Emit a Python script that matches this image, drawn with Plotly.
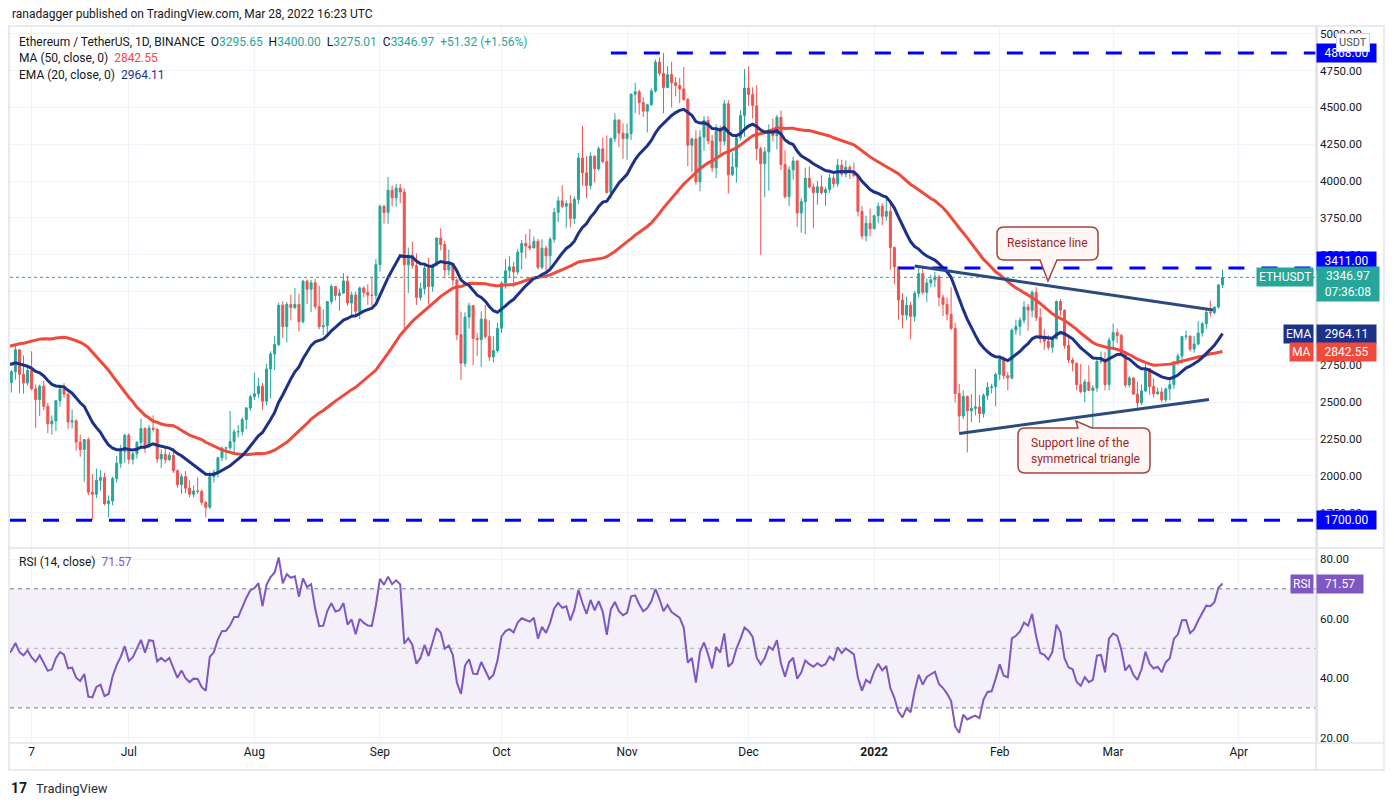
import numpy as np
import pandas as pd
import plotly.graph_objects as go

# ETH/USDT daily closes before the visible window (2021-04-12 .. 2021-05-31),
# only used so MA50 / EMA20 / RSI14 are warmed up at the left edge
warmup_close = [2138, 2299, 2432, 2514, 2422, 2315, 2236, 2162, 2331, 2357, 2403, 2363, 2211, 2317, 2535, 2663, 2748, 2757, 2774,
                2946, 2949, 3431, 3241, 3523, 3490, 3484, 3903, 3928, 3951, 4168, 3785, 3716, 4080, 3645, 3587, 3276, 3382,
                2456, 2773, 2429, 2299, 2103, 2644, 2706, 2889, 2742, 2416, 2279, 2388, 2709]

start_date = "2021-06-01"

# visible candles 2021-06-01 .. 2022-03-28 (one row per month)
close = [
    2634, 2707, 2856, 2689, 2630, 2715, 2591, 2518, 2609, 2472, 2353, 2372, 2510, 2588, 2554, 2366, 2374, 2229, 2179, 2246, 1890, 1875, 1970, 1990, 1812, 1830, 1982, 2086, 2166, 2275,
    2113, 2150, 2227, 2322, 2198, 2324, 2317, 2115, 2146, 2111, 2140, 2035, 1941, 1995, 1917, 1876, 1898, 1895, 1820, 1787, 1995, 2026, 2123, 2188, 2191, 2233, 2299, 2300, 2382, 2461, 2537,
    2557, 2608, 2507, 2725, 2827, 2891, 3157, 3013, 3163, 3142, 3164, 3046, 3321, 3266, 3310, 3148, 3012, 3018, 3183, 3284, 3224, 3240, 3322, 3173, 3227, 3117, 3275, 3245, 3226, 3224, 3433,
    3829, 3787, 3937, 3886, 3952, 3926, 3432, 3497, 3427, 3211, 3270, 3410, 3285, 3429, 3614, 3570, 3397, 3433, 3329, 2958, 2764, 3077, 3155, 2932, 2925, 3063, 2945, 2807, 2850, 3001,
    3308, 3391, 3418, 3383, 3517, 3576, 3560, 3546, 3591, 3415, 3545, 3493, 3605, 3787, 3866, 3829, 3847, 3746, 3876, 4156, 4056, 3970, 4168, 4084, 4219, 4132, 3923, 4288, 4414, 4325, 4288,
    4322, 4589, 4606, 4532, 4474, 4518, 4611, 4807, 4731, 4635, 4722, 4667, 4648, 4625, 4553, 4243, 4286, 3995, 4298, 4412, 4272, 4090, 4340, 4270, 4524, 4042, 4096, 4293, 4444, 4631,
    4587, 4511, 4220, 4117, 4198, 4347, 4309, 4432, 4112, 3894, 4076, 4136, 3784, 3860, 4019, 3960, 3922, 3961, 3922, 3942, 4020, 3981, 4108, 4047, 4093, 4067, 4037, 3794, 3628, 3713, 3676,
    3765, 3829, 3761, 3794, 3550, 3418, 3193, 3091, 3157, 3083, 3238, 3372, 3245, 3309, 3330, 3350, 3212, 3164, 3096, 3001, 2559, 2406, 2539, 2441, 2457, 2468, 2423, 2546, 2600, 2604, 2688,
    2793, 2680, 2664, 2989, 3014, 3056, 3146, 3124, 3245, 3075, 2930, 2914, 2872, 2930, 3183, 3124, 2884, 2786, 2765, 2619, 2572, 2637, 2580, 2596, 2776, 2781, 2620, 2920,
    2972, 2952, 2835, 2617, 2664, 2555, 2496, 2576, 2728, 2606, 2557, 2570, 2516, 2590, 2619, 2774, 2814, 2946, 2949, 2861, 2895, 2970, 3032, 3110, 3107, 3145, 3295.65, 3346.97,
]

high = [
    2740, 2718, 2891, 2858, 2817, 2744, 2845, 2620, 2620, 2645, 2495, 2410, 2515, 2620, 2630, 2565, 2450, 2384, 2280, 2250, 2262, 2015, 2050, 2040, 2020, 1868, 1995, 2135, 2210, 2285,
    2290, 2163, 2237, 2390, 2330, 2346, 2410, 2323, 2180, 2190, 2160, 2190, 2045, 2015, 2033, 1970, 1935, 1990, 1910, 1830, 2030, 2043, 2130, 2200, 2196, 2440, 2317, 2345, 2398, 2468, 2550,
    2700, 2666, 2630, 2760, 2845, 2950, 3175, 3185, 3180, 3230, 3275, 3235, 3330, 3333, 3330, 3335, 3290, 3130, 3185, 3300, 3290, 3270, 3375, 3357, 3249, 3250, 3285, 3286, 3300, 3350, 3470,
    3840, 3839, 4028, 3970, 3980, 3980, 3950, 3548, 3590, 3510, 3310, 3440, 3480, 3440, 3615, 3680, 3595, 3535, 3445, 3340, 3114, 3110, 3175, 3160, 2970, 3115, 3160, 3055, 2950, 3040,
    3320, 3470, 3490, 3450, 3540, 3600, 3640, 3675, 3625, 3607, 3605, 3560, 3620, 3817, 3895, 3972, 3870, 3905, 3895, 4190, 4375, 4170, 4195, 4175, 4235, 4295, 4310, 4295, 4460, 4420, 4390,
    4390, 4595, 4666, 4620, 4570, 4525, 4630, 4825, 4840, 4868, 4780, 4810, 4705, 4700, 4775, 4565, 4295, 4345, 4345, 4440, 4440, 4313, 4385, 4375, 4550, 4550, 4195, 4296, 4480, 4760,
    4778, 4635, 4650, 4235, 4230, 4385, 4425, 4450, 4478, 4210, 4100, 4165, 4145, 3885, 4090, 4100, 3985, 4000, 4040, 3960, 4050, 4045, 4150, 4145, 4140, 4110, 4125, 4050, 3830, 3765, 3813,
    3770, 3855, 3850, 3880, 3845, 3555, 3420, 3240, 3215, 3180, 3255, 3415, 3413, 3340, 3365, 3385, 3365, 3230, 3210, 3280, 3040, 2625, 2580, 2545, 2555, 2725, 2550, 2560, 2635, 2625, 2700,
    2815, 2810, 2705, 3000, 3060, 3075, 3185, 3167, 3260, 3280, 3140, 2995, 2955, 2950, 3190, 3200, 3130, 2944, 2803, 2767, 2760, 2655, 2750, 2615, 2800, 2845, 2840, 2940,
    3033, 3000, 2963, 2840, 2680, 2670, 2640, 2620, 2765, 2730, 2660, 2600, 2600, 2600, 2655, 2780, 2830, 2950, 2985, 2950, 2950, 3050, 3045, 3125, 3190, 3150, 3300, 3400.00,
]

low = [
    2530, 2565, 2652, 2560, 2558, 2614, 2580, 2326, 2406, 2445, 2290, 2280, 2305, 2470, 2530, 2320, 2321, 2172, 2130, 1960, 1870, 1700, 1850, 1900, 1800, 1720, 1800, 1955, 2055, 2090,
    2080, 2078, 2118, 2188, 2155, 2190, 2300, 2087, 2055, 2085, 2100, 2020, 1920, 1880, 1883, 1855, 1854, 1877, 1800, 1718, 1776, 1955, 1990, 2100, 2107, 2175, 2150, 2260, 2273, 2317, 2441,
    2515, 2530, 2450, 2478, 2525, 2716, 2880, 2935, 2905, 3055, 3130, 2980, 3033, 3165, 3110, 3130, 2996, 2955, 2950, 3162, 3190, 3120, 3235, 3152, 3080, 3086, 3064, 3210, 3160, 3155, 3195,
    3386, 3713, 3710, 3830, 3825, 3850, 3000, 3240, 3405, 3160, 3190, 3232, 3162, 3250, 3425, 3530, 3340, 3360, 3290, 2920, 2651, 2740, 3000, 2750, 2815, 2740, 2930, 2780, 2770, 2835,
    2970, 3270, 3345, 3280, 3365, 3400, 3475, 3530, 3545, 3400, 3400, 3383, 3410, 3580, 3720, 3815, 3680, 3685, 3710, 3845, 3970, 3885, 3945, 3990, 4070, 4120, 3915, 3880, 4265, 4230, 4150,
    4145, 4280, 4460, 4450, 4435, 4330, 4510, 4600, 4715, 4460, 4630, 4500, 4575, 4530, 4545, 4100, 4060, 3975, 3930, 4205, 4250, 4062, 4020, 4160, 4240, 3915, 4035, 3990, 4275, 4300,
    4510, 4425, 4140, 3500, 3890, 3935, 4270, 4215, 4075, 3880, 3830, 4010, 3690, 3650, 3640, 3950, 3680, 3840, 3910, 3830, 3920, 3955, 3960, 4030, 4025, 4015, 4025, 3760, 3605, 3590, 3625,
    3675, 3715, 3700, 3730, 3400, 3300, 3060, 3000, 3055, 2928, 3045, 3210, 3230, 3180, 3280, 3280, 3150, 3085, 3055, 2990, 2500, 2300, 2385, 2159, 2365, 2410, 2360, 2395, 2515, 2560, 2472,
    2650, 2655, 2580, 2655, 2955, 2952, 3035, 2985, 3075, 3050, 2900, 2855, 2855, 2835, 2925, 3085, 2862, 2765, 2710, 2580, 2560, 2500, 2575, 2300, 2570, 2760, 2580, 2580,
    2860, 2900, 2820, 2600, 2600, 2550, 2450, 2480, 2570, 2550, 2532, 2550, 2500, 2500, 2512, 2590, 2750, 2760, 2923, 2845, 2835, 2885, 2945, 2997, 3082, 3095, 3135, 3275.01,
]

assert len(close) == len(high) == len(low) == 301

# indicator readings as printed on the reference
ma_last = 2842.55
ema_last = 2964.11
rsi_last = 71.57

# horizontal levels drawn by the author
level_top = 4868.00
level_resist = 3411.00
level_bottom = 1700.00

# trendline drawings (date, price)
resistance_line = [("2022-01-11", 3424), ("2022-03-25 16:00", 3126)]
support_line = [("2022-01-22", 2288), ("2022-03-24 16:00", 2518)]

month_ticks = ["2021-06-07", "2021-07-01", "2021-08-01", "2021-09-01", "2021-10-01", "2021-11-01",
               "2021-12-01", "2022-01-01", "2022-02-01", "2022-03-01", "2022-04-01"]
month_labels = ["7", "Jul", "Aug", "Sep", "Oct", "Nov", "Dec", "<b>2022</b>", "Feb", "Mar", "Apr"]
price_ticks = [1750, 2000, 2250, 2500, 2750, 3000, 3250, 3500, 3750, 4000, 4250, 4500, 4750, 5000]
rsi_ticks = [20, 40, 60, 80]

UP = "#26a69a"
DOWN = "#ef5350"
EMA_C = "#1b3288"
MA_C = "#f04a3d"
RSI_C = "#7e57c2"
LVL_C = "#0000ff"
TXT = "#131722"
GRID = "#f0f3fa"
BORDER = "#e0e3eb"
FONT = "Roboto"

# ---- derived series -------------------------------------------------------
dates = pd.date_range(start_date, periods=len(close), freq="D")
opens = [warmup_close[-1]] + close[:-1]   # 24h market: open = prior close

full = pd.Series(warmup_close + close, dtype=float)
ma50 = full.rolling(50).mean().iloc[len(warmup_close):].values
ema20 = full.ewm(span=20, adjust=False).mean().iloc[len(warmup_close):].values
delta = full.diff()
up_avg = delta.clip(lower=0).ewm(alpha=1 / 14, adjust=False).mean()
dn_avg = (-delta.clip(upper=0)).ewm(alpha=1 / 14, adjust=False).mean()
rsi = (100 - 100 / (1 + up_avg / dn_avg)).iloc[len(warmup_close):].values

# ---- pixel helpers -----------------------------------------------------------
# the page body has an 8px margin, so the figure is 8px smaller and the
# reference pixel positions below are screen positions
OFF = 8
W, H = 1394 - OFF, 806 - OFF
L, R, T, B = 10, 1316, 27, 743
SPLIT = 548


def px(x):
    return (x - L) / (R - L)


def py(y):
    return (B - y) / (B - T)


x_range = ["2021-06-01 16:00", "2022-04-20 02:00"]

fig = go.Figure()

fig.add_trace(go.Candlestick(
    x=dates, open=opens, high=high, low=low, close=close,
    increasing=dict(line=dict(color=UP, width=1), fillcolor=UP),
    decreasing=dict(line=dict(color=DOWN, width=1), fillcolor=DOWN),
    whiskerwidth=0, showlegend=False, hoverinfo="skip", xaxis="x", yaxis="y"))
fig.add_trace(go.Scatter(x=dates, y=ma50, mode="lines", line=dict(color=MA_C, width=3),
                         showlegend=False, hoverinfo="skip", xaxis="x", yaxis="y"))
fig.add_trace(go.Scatter(x=dates, y=ema20, mode="lines", line=dict(color=EMA_C, width=3),
                         showlegend=False, hoverinfo="skip", xaxis="x", yaxis="y"))
fig.add_trace(go.Scatter(x=dates, y=rsi, mode="lines", line=dict(color=RSI_C, width=2),
                         showlegend=False, hoverinfo="skip", xaxis="x2", yaxis="y2"))

shapes = []
# RSI band and guides
shapes.append(dict(type="rect", xref="x2 domain", x0=0, x1=1, yref="y2", y0=30, y1=70,
                   fillcolor="rgba(126,87,194,0.09)", line=dict(width=0), layer="below"))
for lvl, col in [(70, "#787b86"), (50, "rgba(120,123,134,0.55)"), (30, "#787b86")]:
    shapes.append(dict(type="line", xref="x2 domain", x0=0, x1=1, yref="y2", y0=lvl, y1=lvl,
                       line=dict(color=col, width=1, dash="4px,4px")))
# last price dotted line
shapes.append(dict(type="line", xref="x", x0=x_range[0], x1=x_range[1], yref="y",
                   y0=close[-1], y1=close[-1], line=dict(color=UP, width=1, dash="dot")))
# blue horizontal levels
for x0, lvl in [("2021-10-28", level_top), ("2022-01-07", level_resist), (x_range[0], level_bottom)]:
    shapes.append(dict(type="line", xref="x", x0=x0, x1=x_range[1], yref="y", y0=lvl, y1=lvl,
                       line=dict(color=LVL_C, width=3, dash="16px,17px")))
# triangle lines
for pts in (resistance_line, support_line):
    shapes.append(dict(type="line", xref="x", yref="y", x0=pts[0][0], y0=pts[0][1],
                       x1=pts[1][0], y1=pts[1][1], line=dict(color="#2b4a7e", width=3)))


def callout(x0, y0, x1, y1, ptr, r=7):
    side, b0, b1, tx, ty = ptr
    pts = []
    if side == "top":
        seq = [("M", x0 + r, y0), ("L", b0, y0), ("L", tx, ty), ("L", b1, y0), ("L", x1 - r, y0),
               ("Q", x1, y0, x1, y0 + r), ("L", x1, y1 - r), ("Q", x1, y1, x1 - r, y1),
               ("L", x0 + r, y1), ("Q", x0, y1, x0, y1 - r), ("L", x0, y0 + r), ("Q", x0, y0, x0 + r, y0)]
    else:
        seq = [("M", x0 + r, y0), ("L", x1 - r, y0), ("Q", x1, y0, x1, y0 + r), ("L", x1, y1 - r),
               ("Q", x1, y1, x1 - r, y1), ("L", b1, y1), ("L", tx, ty), ("L", b0, y1),
               ("L", x0 + r, y1), ("Q", x0, y1, x0, y1 - r), ("L", x0, y0 + r), ("Q", x0, y0, x0 + r, y0)]
    for s in seq:
        if s[0] == "Q":
            pts.append(f"Q{px(s[1]):.5f},{py(s[2]):.5f} {px(s[3]):.5f},{py(s[4]):.5f}")
        else:
            pts.append(f"{s[0]}{px(s[1]):.5f},{py(s[2]):.5f}")
    return dict(type="path", xref="paper", yref="paper", path=" ".join(pts) + " Z",
                fillcolor="#fff7f6", line=dict(color="#a8403f", width=1.5))


shapes.append(callout(997, 227, 1098, 260, ("bottom", 1040, 1057, 1048, 281)))
shapes.append(callout(1018, 428, 1150, 473, ("top", 1078, 1092, 1076, 421)))

# frame / separators
shapes.append(dict(type="rect", xref="paper", yref="paper", x0=px(9), x1=px(1384), y0=py(770), y1=py(26),
                   line=dict(color=BORDER, width=1.5)))
shapes.append(dict(type="line", xref="paper", yref="paper", x0=px(9), x1=px(1384), y0=py(SPLIT), y1=py(SPLIT),
                   line=dict(color=BORDER, width=1.5)))
shapes.append(dict(type="line", xref="paper", yref="paper", x0=px(9), x1=px(1384), y0=0, y1=0,
                   line=dict(color=BORDER, width=1.5)))
shapes.append(dict(type="line", xref="paper", yref="paper", x0=1, x1=1, y0=py(770), y1=py(26),
                   line=dict(color=BORDER, width=1.5)))

ann = []


def text(x, y, s, size=12, color=TXT, xanchor="left", **kw):
    ann.append(dict(xref="paper", yref="paper", x=px(x), y=py(y), text=s, showarrow=False,
                    xanchor=xanchor, yanchor="middle", font=dict(family=FONT, size=size, color=color), **kw))


def tag(y, s, bg, yref="y", right=False, width=None, size=12):
    d = dict(xref="paper", yref=yref, y=y, text=s, showarrow=False, yanchor="middle",
             bgcolor=bg, borderpad=2, font=dict(family=FONT, size=size, color="white"))
    if right:
        d.update(x=px(1314), xanchor="right")
    else:
        d.update(x=px(1316), xanchor="left")
    if width:
        d["width"] = width
    ann.append(d)


chg = close[-1] - close[-2]
pct = chg / close[-2] * 100
teal = lambda v: f"<span style='color:{UP}'>{v}</span>"
text(10, 14, "ranadagger published on TradingView.com, Mar 28, 2022 16:23 UTC")
text(17, 42, "Ethereum / TetherUS, 1D, BINANCE  "
     f"O{teal(f'{opens[-1]:.2f}')}  H{teal(f'{high[-1]:.2f}')}  L{teal(f'{low[-1]:.2f}')}  "
     f"C{teal(f'{close[-1]:.2f}')}  {teal(f'{chg:+.2f} ({pct:+.2f}%)')}")
text(17, 58, f"MA (50, close, 0)  <span style='color:{MA_C}'>{ma_last:.2f}</span>")
text(17, 75, f"EMA (20, close, 0)  <span style='color:{EMA_C}'>{ema_last:.2f}</span>")
text(17, 562, f"RSI (14, close)  <span style='color:{RSI_C}'>{rsi_last:.2f}</span>")

# callout texts
text(1047, 243, "Resistance line", color="#9b2626", xanchor="center")
text(1029, 451, "Support line of the<br>symmetrical triangle", color="#9b2626", align="left")

# price scale tags
tag(level_top, f"{level_top:.2f}", LVL_C, width=55)
tag(py(261), f"{level_resist:.2f}", LVL_C, yref="paper", width=55)
tag(level_bottom, f"{level_bottom:.2f}", LVL_C, width=55)
tag(py(284), f"{close[-1]:.2f}<br>07:36:08", UP, yref="paper", width=58)
tag(close[-1], "ETHUSDT", UP, right=True)
tag(ema_last, f"{ema_last:.2f}", EMA_C, width=55)
tag(ema_last, "EMA", EMA_C, right=True)
tag(ma_last, f"{ma_last:.2f}", MA_C, width=55)
tag(ma_last, "MA", MA_C, right=True)
tag(rsi_last, f"{rsi_last:.2f}", RSI_C, yref="y2", width=42)
tag(rsi_last, "RSI", RSI_C, yref="y2", right=True)

ann.append(dict(xref="paper", yref="paper", x=px(1353), y=py(43), text="USDT", showarrow=False,
                xanchor="center", yanchor="middle", bgcolor="white", bordercolor="#d1d4dc",
                borderwidth=1, borderpad=2, font=dict(family=FONT, size=11, color="#4a4e59")))

# footer logo
text(9, 788, "<b>17</b>", size=14, color="#131722")
text(34, 788, "TradingView", size=13, color="#2a2e39")

# 3250 sits fully under the ETHUSDT tag on the reference
price_text = ["" if v == 3250 else f"{v:.2f}" for v in price_ticks]

fig.update_layout(
    width=W, height=H,
    margin=dict(l=L - OFF, r=W - (R - OFF), t=T - OFF, b=H - (B - OFF)),
    paper_bgcolor="white", plot_bgcolor="white",
    showlegend=False, hovermode=False,
    font=dict(family=FONT, size=12, color=TXT),
    shapes=shapes, annotations=ann,
    xaxis=dict(domain=[0, 1], anchor="y", range=x_range, type="date",
               tickvals=month_ticks, showticklabels=False, showgrid=True, gridcolor=GRID,
               zeroline=False, showline=False, rangeslider=dict(visible=False)),
    xaxis2=dict(domain=[0, 1], anchor="y2", matches="x", range=x_range, type="date",
                tickvals=month_ticks, ticktext=month_labels, showgrid=True, gridcolor=GRID,
                zeroline=False, showline=False, ticks="",
                tickfont=dict(family=FONT, size=12, color=TXT)),
    yaxis=dict(domain=[py(SPLIT), 1], anchor="x", side="right", range=[1511, 5045],
               tickvals=price_ticks, ticktext=price_text, showgrid=True, gridcolor=GRID,
               zeroline=False, showline=True, linecolor=BORDER, linewidth=1.5, ticks="",
               tickfont=dict(family=FONT, size=11.5, color=TXT)),
    yaxis2=dict(domain=[0, py(SPLIT)], anchor="x2", side="right", range=[18.2, 83.7],
                tickvals=rsi_ticks, tickformat=".2f", showgrid=True, gridcolor=GRID,
                zeroline=False, showline=True, linecolor=BORDER, linewidth=1.5, ticks="",
                tickfont=dict(family=FONT, size=11.5, color=TXT)),
)

fig.write_html("out.html")
